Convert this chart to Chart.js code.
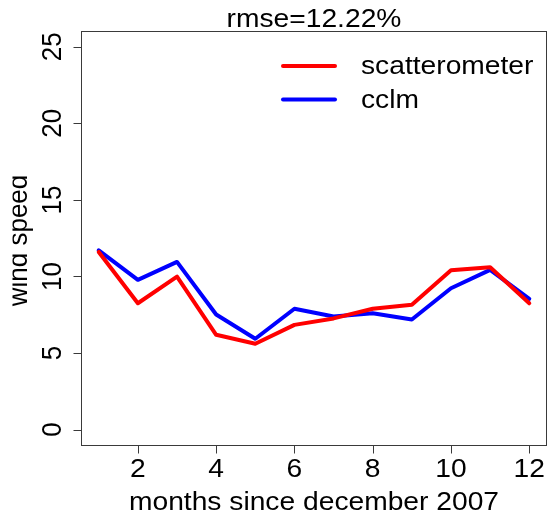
<!DOCTYPE html>
<html>
<head>
<meta charset="utf-8">
<script src="https://cdn.jsdelivr.net/npm/chart.js@4"></script>
<style>
  html, body { margin: 0; padding: 0; background: #fff; }
  #wrap { width: 549px; height: 515px; }
</style>
</head>
<body>
<div id="wrap"><canvas id="c" width="549" height="515"></canvas></div>
<script>
// Monthly mean wind speed: scatterometer observations vs CCLM model
const months = [1, 2, 3, 4, 5, 6, 7, 8, 9, 10, 11, 12];
const scatterometer = [11.6, 8.25, 9.99, 6.19, 5.61, 6.84, 7.26, 7.89, 8.15, 10.4, 10.6, 8.25];
const cclm = [11.71, 9.78, 10.95, 7.52, 5.93, 7.89, 7.39, 7.6, 7.19, 9.23, 10.43, 8.54];
const xTicks = [2, 4, 6, 8, 10, 12];
const yTicks = [0, 5, 10, 15, 20, 25];
const seriesNames = ['scatterometer', 'cclm'];
const seriesColors = ['#ff0000', '#0000ff'];
const titleText = 'rmse=12.22%';
const xTitle = 'months since december 2007';
const yTitle = 'wind speed';

const FONT = '26px "Liberation Sans", Arial, Helvetica, sans-serif';
const SX = 1.085; // slight horizontal widening of all text

function txt(ctx, s, x, y, align, baseline, rot) {
  ctx.save();
  ctx.translate(x, y);
  ctx.scale(SX, 1);
  if (rot) ctx.rotate(rot);
  ctx.textAlign = align;
  ctx.textBaseline = baseline;
  ctx.fillText(s, 0, 0);
  ctx.restore();
}

const framePlugin = {
  id: 'frame',
  afterDraw(chart) {
    const ctx = chart.ctx;
    const a = chart.chartArea;
    const xs = chart.scales.x, ys = chart.scales.y;
    ctx.save();
    // box
    ctx.strokeStyle = '#3a3a3a';
    ctx.lineWidth = 1;
    ctx.strokeRect(a.left, a.top, a.right - a.left, a.bottom - a.top);
    // ticks
    ctx.beginPath();
    xTicks.forEach(v => {
      const px = Math.round(xs.getPixelForValue(v)) + 0.5;
      ctx.moveTo(px, a.bottom); ctx.lineTo(px, a.bottom + 8);
    });
    yTicks.forEach(v => {
      const py = Math.round(ys.getPixelForValue(v)) + 0.5;
      ctx.moveTo(a.left, py); ctx.lineTo(a.left - 8, py);
    });
    ctx.stroke();

    ctx.fillStyle = '#000';
    ctx.font = FONT;
    // x tick labels
    xTicks.forEach(v => {
      txt(ctx, String(v), xs.getPixelForValue(v), 477, 'center', 'alphabetic', 0);
    });
    // y tick labels (rotated)
    yTicks.forEach(v => {
      txt(ctx, String(v), 61, ys.getPixelForValue(v), 'center', 'alphabetic', -Math.PI / 2);
    });
    const cx = (a.left + a.right) / 2;
    // titles
    txt(ctx, titleText, cx, 27, 'center', 'alphabetic', 0);
    txt(ctx, xTitle, cx, 510, 'center', 'alphabetic', 0);
    // y title sits against the left edge; its ascenders run off the page
    ctx.save();
    ctx.beginPath();
    ctx.rect(12.5, 0, 60, 515);
    ctx.clip();
    txt(ctx, yTitle, 27, (a.top + a.bottom) / 2 + 2, 'center', 'alphabetic', -Math.PI / 2);
    ctx.restore();

    // legend
    const rows = [66, 99.5];
    seriesNames.forEach((name, i) => {
      ctx.strokeStyle = seriesColors[i];
      ctx.lineWidth = 4;
      ctx.lineCap = 'round';
      ctx.beginPath();
      ctx.moveTo(283, rows[i]); ctx.lineTo(335, rows[i]);
      ctx.stroke();
      txt(ctx, name, 361, rows[i] + 1, 'left', 'middle', 0);
    });
    ctx.restore();
  }
};

new Chart(document.getElementById('c'), {
  type: 'line',
  data: {
    datasets: [
      {
        label: seriesNames[0],
        data: months.map((m, i) => ({ x: m, y: scatterometer[i] })),
        borderColor: seriesColors[0],
        borderWidth: 4,
        pointRadius: 0,
        tension: 0,
        borderCapStyle: 'round',
        borderJoinStyle: 'round',
        fill: false
      },
      {
        label: seriesNames[1],
        data: months.map((m, i) => ({ x: m, y: cclm[i] })),
        borderColor: seriesColors[1],
        borderWidth: 4,
        pointRadius: 0,
        tension: 0,
        borderCapStyle: 'round',
        borderJoinStyle: 'round',
        fill: false
      }
    ]
  },
  options: {
    responsive: false,
    animation: false,
    devicePixelRatio: 1,
    layout: { padding: { left: 81.5, top: 31.5, right: 2.5, bottom: 69.5 } },
    plugins: { legend: { display: false }, tooltip: { enabled: false }, title: { display: false } },
    scales: {
      x: { type: 'linear', min: 0.56, max: 12.44, display: false },
      y: { type: 'linear', min: -1.04, max: 26, display: false }
    }
  },
  plugins: [framePlugin]
});
</script>
</body>
</html>
